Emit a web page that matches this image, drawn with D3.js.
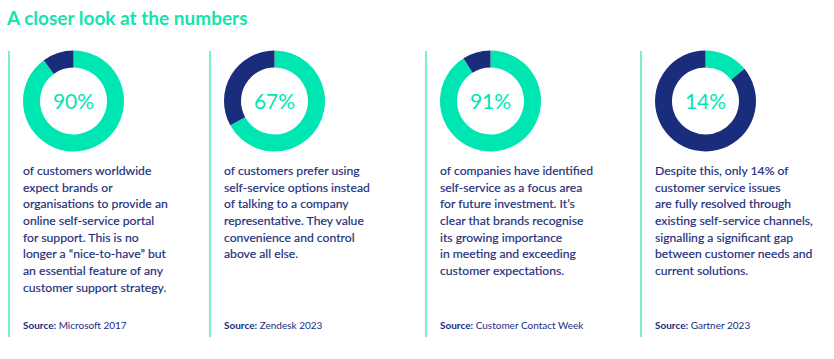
<!DOCTYPE html>
<html><head><meta charset="utf-8">
<script src="https://cdn.jsdelivr.net/npm/d3@7"></script>
<style>body{margin:0;background:#fff;}svg{display:block;font-family:Lato,"Noto Sans",sans-serif;}</style>
</head><body><svg id="c" width="834" height="359"></svg>
<script>
const title = "A closer look at the numbers";
const values = [90, 67, 91, 14];
const labels = ["90%", "67%", "91%", "14%"];
const descriptions = [
  ["of customers worldwide", "expect brands or", "organisations to provide an", "online self-service portal", "for support. This is no", "longer a \u201cnice-to-have\u201d but", "an essential feature of any", "customer support strategy."],
  ["of customers prefer using", "self-service options instead", "of talking to a company", "representative. They value", "convenience and control", "above all else."],
  ["of companies have identified", "self-service as a focus area", "for future investment. It\u2019s", "clear that brands recognise", "its growing importance", "in meeting and exceeding", "customer expectations."],
  ["Despite this, only 14% of", "customer service issues", "are fully resolved through", "existing self-service channels,", "signalling a significant gap", "between customer needs and", "current solutions."]
];
const sources = ["Microsoft 2017", "Zendesk 2023", "Customer Contact Week", "Gartner 2023"];

const GREEN = "#00e6b2", NAVY = "#1a2c7c", LINE = "#7eefce";
const svg = d3.select("#c");
svg.append("text").attr("x", 7).attr("y", 25).attr("fill", "#14e3ad")
  .attr("font-size", 19).attr("font-weight", 700).text(title);

const panelPos = [9, 210, 426, 641];
const pie = d3.pie().sort(null).value(d => d);
const arc = d3.arc().innerRadius(33.5).outerRadius(50.5);

values.forEach((v, i) => {
  const x0 = panelPos[i];
  const g = svg.append("g");
  g.append("line").attr("x1", x0).attr("x2", x0).attr("y1", 51).attr("y2", 337)
    .attr("stroke", LINE).attr("stroke-width", 2);
  const dg = g.append("g").attr("transform", `translate(${x0 + 64.5},101)`);
  dg.selectAll("path").data(pie([v, 100 - v])).join("path")
    .attr("d", arc).attr("fill", (d, j) => j === 0 ? GREEN : NAVY);
  dg.append("text").attr("text-anchor", "middle").attr("dy", "0.36em")
    .attr("font-size", 21).attr("fill", GREEN).text(labels[i]);
  const t = g.append("text").attr("fill", NAVY).attr("font-size", 12.2)
    .attr("stroke", NAVY).attr("stroke-width", 0.15);
  descriptions[i].forEach((line, k) => {
    t.append("tspan").attr("x", x0 + 14).attr("y", 175 + k * 16.67).text(line);
  });
  const s = g.append("text").attr("x", x0 + 14).attr("y", 329).attr("fill", NAVY).attr("font-size", 10);
  s.append("tspan").attr("font-weight", 700).text("Source:");
  s.append("tspan").text(" " + sources[i]);
});
</script></body></html>
